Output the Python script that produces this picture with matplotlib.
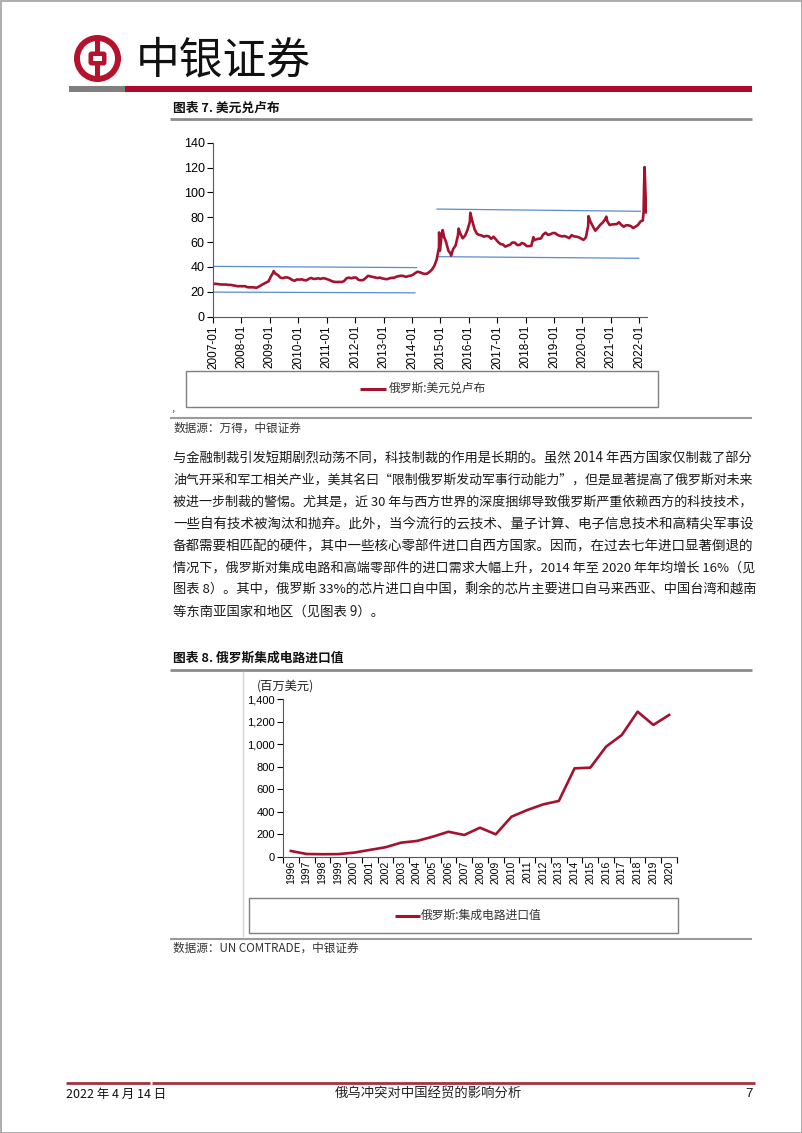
import matplotlib
matplotlib.use('Agg')
import matplotlib.pyplot as plt
import matplotlib.dates as mdates
from matplotlib.patches import Circle, Rectangle, FancyBboxPatch
from matplotlib.ticker import FuncFormatter
import numpy as np
import pandas as pd

W, H = 802, 1133
CJK = ['Noto Sans CJK SC', 'DejaVu Sans']
NUM = ['Liberation Sans', 'DejaVu Sans']
RED = '#A5122E'
BLUE = '#5B8BD0'
plt.rcParams['font.family'] = NUM

# ---- chart 7: USD/RUB, monthly readings from 2007-01 to 2022-02 ----
rub_monthly = [
    26.5, 26.4, 26.2, 25.9, 25.9, 25.9, 25.6, 25.6, 25.2, 24.9, 24.5, 24.6,
    24.5, 24.6, 23.8, 23.6, 23.7, 23.5, 23.3, 24.3, 25.5, 26.5, 27.5, 28.5,
    32.5, 35.8, 34.5, 33.5, 31.5, 31.0, 31.6, 31.6, 30.8, 29.5, 28.9, 30.0,
    29.8, 30.1, 29.5, 29.2, 30.4, 31.2, 30.4, 30.5, 30.9, 30.4, 31.0, 30.7,
    30.0, 29.3, 28.4, 28.0, 27.9, 28.0, 27.9, 28.8, 31.0, 31.4, 30.9, 31.5,
    31.5, 29.6, 29.3, 29.5, 31.0, 32.9, 32.5, 32.0, 31.5, 31.1, 31.5, 30.8,
    30.4, 30.2, 30.8, 31.3, 31.3, 32.2, 32.6, 33.0, 32.7, 32.0, 32.7, 33.0,
    33.8, 35.2, 36.2, 35.7, 34.9, 34.4, 34.7, 36.1, 37.9, 40.8, 46.0, 56.0,
    64.0, 64.7, 60.2, 53.0, 50.5, 54.5, 57.2, 65.3, 66.8, 63.1, 65.2, 69.7,
    76.3, 77.2, 70.5, 66.7, 65.8, 65.3, 64.4, 65.0, 64.6, 62.7, 64.4, 62.2,
    59.9, 58.4, 58.1, 56.4, 57.2, 57.9, 59.7, 59.6, 57.7, 57.7, 59.3, 58.6,
    56.8, 56.8, 57.0, 61.5, 62.2, 62.7, 62.9, 66.1, 67.6, 65.9, 66.3, 67.3,
    67.3, 65.8, 65.1, 64.6, 64.9, 64.2, 63.2, 65.6, 64.6, 64.4, 63.9, 62.9,
    61.8, 63.9, 73.2, 76.2, 72.6, 69.2, 71.3, 73.8, 75.6, 78.0, 77.0, 73.8,
    74.2, 74.4, 74.4, 76.0, 73.9, 72.4, 73.6, 73.5, 72.9, 71.3, 72.6, 73.8,
    76.5, 77.5,
]
# peaks and the March 2022 spike
rub_extra_dates = ['2009-02-19', '2014-12-16', '2014-12-26', '2015-01-30',
                   '2015-02-03', '2015-05-18', '2015-08-24', '2016-01-21',
                   '2018-04-11', '2020-03-19', '2020-11-03', '2022-02-25',
                   '2022-03-03', '2022-03-10', '2022-03-20', '2022-03-30']
rub_extra_values = [36.7, 67.8, 53.0, 69.7, 69.0, 49.2, 70.9, 83.6,
                    64.0, 80.9, 80.5, 84.0, 104.0, 120.4, 103.0, 84.0]

# blue range lines drawn by the author
band_starts = ['2007-01-01', '2007-01-01', '2014-11-20', '2014-12-01']
band_ends = ['2014-03-01', '2014-02-10', '2022-01-15', '2021-12-25']
band_start_vals = [40.5, 19.8, 86.6, 48.3]
band_end_vals = [39.5, 19.2, 84.8, 47.0]

# ---- chart 8: Russia integrated circuit imports (USD mn) ----
ic_years = ['1996', '1997', '1998', '1999', '2000', '2001', '2002', '2003',
            '2004', '2005', '2006', '2007', '2008', '2009', '2010', '2011',
            '2012', '2013', '2014', '2015', '2016', '2017', '2018', '2019',
            '2020']
ic_values = [51, 24, 22, 23, 36, 60, 84, 125, 140, 178, 222, 193, 258, 199,
             356, 415, 465, 496, 786, 792, 979, 1083, 1290, 1172, 1261]

paragraph = [
    '与金融制裁引发短期剧烈动荡不同，科技制裁的作用是长期的。虽然 2014 年西方国家仅制裁了部分',
    '油气开采和军工相关产业，美其名曰“限制俄罗斯发动军事行动能力”，但是显著提高了俄罗斯对未来',
    '被进一步制裁的警惕。尤其是，近 30 年与西方世界的深度捆绑导致俄罗斯严重依赖西方的科技技术，',
    '一些自有技术被淘汰和抛弃。此外，当今流行的云技术、量子计算、电子信息技术和高精尖军事设',
    '备都需要相匹配的硬件，其中一些核心零部件进口自西方国家。因而，在过去七年进口显著倒退的',
    '情况下，俄罗斯对集成电路和高端零部件的进口需求大幅上升，2014 年至 2020 年年均增长 16%（见',
    '图表 8）。其中，俄罗斯 33%的芯片进口自中国，剩余的芯片主要进口自马来西亚、中国台湾和越南',
    '等东南亚国家和地区（见图表 9）。',
]

fig = plt.figure(figsize=(W / 100, H / 100), dpi=100)

# page layer in pixel coordinates
page = fig.add_axes([0, 0, 1, 1])
page.set_xlim(0, W)
page.set_ylim(H, 0)
page.axis('off')


def hline(y, x0, x1, color, lw):
    page.plot([x0, x1], [y, y], color=color, lw=lw, solid_capstyle='butt')


def txt(x, y, s, size, **kw):
    kw.setdefault('family', CJK)
    kw.setdefault('color', '#1a1a1a')
    kw.setdefault('va', 'center')
    return page.text(x, y, s, fontsize=size, **kw)


page.add_patch(Rectangle((0.5, 0.5), W - 1, H - 1, fill=False, ec='#a0a0a0', lw=1.2))

# logo
page.add_patch(Circle((97.5, 58.5), 23.5, fc='#B5122E', ec='none'))
page.add_patch(Circle((97.5, 58.5), 17.5, fc='white', ec='none'))
page.add_patch(Rectangle((95.2, 38), 4.6, 41, fc='#B5122E', ec='none'))
page.add_patch(FancyBboxPatch((88.5, 51.5), 18, 14, boxstyle='round,pad=0,rounding_size=3',
                              fc='#B5122E', ec='none'))
page.add_patch(Rectangle((93.3, 55.8), 8.4, 5.4, fc='white', ec='none'))
txt(136, 60, '中银证券', 31.5, color='#111111')
page.add_patch(Rectangle((69, 86), 56, 6, fc='#7f7f7f', ec='none'))
page.add_patch(Rectangle((125, 86), 627, 6, fc='#AE0A2E', ec='none'))

# chart 7 frame
txt(173, 108, '图表 7. 美元兑卢布', 9.2, weight='bold', color='#111111')
hline(119, 170, 752, '#8c8c8c', 2)
page.add_patch(Rectangle((186, 371), 472, 36, fill=False, ec='#7f7f7f', lw=1))
page.plot([360, 386], [388.5, 388.5], color=RED, lw=2.2, solid_capstyle='butt')
txt(389, 388.5, '俄罗斯:美元兑卢布', 8.5, color='#333333')
txt(171, 408, ',', 8, color='#333333')
hline(418, 170, 752, '#9a9a9a', 1.5)
txt(173, 428, '数据源：万得，中银证券', 8.4, color='#333333', style='italic')

# body text, stretched to the text block width
para_lines = []
for i, line in enumerate(paragraph):
    para_lines.append(txt(173, 458 + i * 22, line, 9.6, color='#1a1a1a'))

# chart 8 frame
txt(173, 658, '图表 8. 俄罗斯集成电路进口值', 9.2, weight='bold', color='#111111')
hline(670, 170, 752, '#8c8c8c', 2)
page.plot([243, 243], [672, 936], color='#d6d6d6', lw=1)
txt(257, 686, '(百万美元)', 8.8, color='#222222')
page.add_patch(Rectangle((249, 898), 429, 35, fill=False, ec='#7f7f7f', lw=1))
page.plot([395, 420], [915.5, 915.5], color=RED, lw=2.2, solid_capstyle='butt')
txt(421, 915.5, '俄罗斯:集成电路进口值', 8.5, color='#333333')
hline(939, 170, 752, '#9a9a9a', 1.5)
txt(173, 948, '数据源：UN COMTRADE，中银证券', 8.4, color='#333333', style='italic')

# footer
hline(1083, 66, 150, '#A8303F', 2)
hline(1083, 152, 755, '#A8303F', 2)
txt(66, 1094, '2022 年 4 月 14 日', 9, color='#111111')
txt(428, 1094, '俄乌冲突对中国经贸的影响分析', 9.6, color='#222222', ha='center')
txt(745, 1094, '7', 9.6, color='#111111', family=NUM)

# ---- chart 7 axes ----
ax1 = fig.add_axes([213 / W, 1 - 316.7 / H, (647 - 213) / W, (316.7 - 142.7) / H])
ax1.patch.set_alpha(0)
monthly_dates = pd.date_range('2007-01-01', periods=len(rub_monthly), freq='MS') + pd.Timedelta(days=14)
rub = pd.concat([pd.Series(rub_monthly, index=monthly_dates),
                 pd.Series(rub_extra_values, index=pd.to_datetime(rub_extra_dates))]).sort_index()
for s, e, v0, v1 in zip(band_starts, band_ends, band_start_vals, band_end_vals):
    ax1.plot([pd.Timestamp(s), pd.Timestamp(e)], [v0, v1], color=BLUE, lw=0.9)
ax1.plot(rub.index, rub.values, color=RED, lw=1.9, solid_joinstyle='round')
ax1.set_xlim(pd.Timestamp('2007-01-01'), pd.Timestamp('2022-04-10'))
ax1.set_ylim(0, 140)
ax1.set_yticks(range(0, 141, 20))
ax1.xaxis.set_major_locator(mdates.YearLocator())
ax1.xaxis.set_major_formatter(mdates.DateFormatter('%Y-%m'))
ax1.tick_params(axis='x', rotation=90, labelsize=8.5, length=4, width=0.8, pad=2)
ax1.tick_params(axis='y', labelsize=9, length=4, width=0.8, pad=2)
for side in ['top', 'right']:
    ax1.spines[side].set_visible(False)
for side in ['left', 'bottom']:
    ax1.spines[side].set_color('#595959')
    ax1.spines[side].set_linewidth(0.8)

# ---- chart 8 axes ----
ax2 = fig.add_axes([283 / W, 1 - 856.7 / H, (677 - 283) / W, (856.7 - 699.3) / H])
ax2.patch.set_alpha(0)
xpos = np.arange(len(ic_years))
ax2.plot(xpos, ic_values, color=RED, lw=1.9, solid_joinstyle='round')
ax2.set_xlim(-0.5, len(ic_years) - 0.5)
ax2.set_ylim(0, 1400)
ax2.set_yticks(range(0, 1401, 200))
ax2.yaxis.set_major_formatter(FuncFormatter(lambda v, p: f'{int(v):,}'))
ax2.set_xticks(xpos)
ax2.set_xticklabels(ic_years, rotation=90)
ax2.set_xticks(np.arange(-0.5, len(ic_years)), minor=True)
ax2.tick_params(axis='x', which='major', length=0, labelsize=7.6, pad=3)
ax2.tick_params(axis='x', which='minor', length=4, width=0.8)
ax2.tick_params(axis='y', labelsize=8, length=4, width=0.8, pad=2)
for side in ['top', 'right']:
    ax2.spines[side].set_visible(False)
for side in ['left', 'bottom']:
    ax2.spines[side].set_color('#595959')
    ax2.spines[side].set_linewidth(0.8)

# justify paragraph lines (all but the last) to the block width
fig.canvas.draw()
renderer = fig.canvas.get_renderer()
for t in para_lines[:-1]:
    w = t.get_window_extent(renderer).width
    t.set_fontsize(9.6 * 583 / w)

fig.savefig('out.png', dpi=100)
